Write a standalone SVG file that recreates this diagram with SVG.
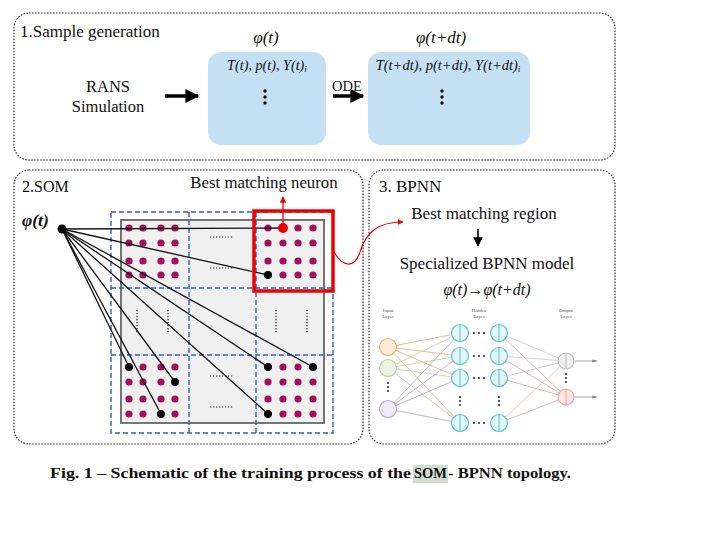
<svg xmlns="http://www.w3.org/2000/svg" width="713" height="538" viewBox="0 0 713 538">
<style>
.panel{fill:none;stroke:#333;stroke-width:1.2;stroke-dasharray:1.6 1.4}
.serif{font-family:"Liberation Serif","Times New Roman",serif;fill:#111}
.it{font-style:italic}
.blue{fill:#c6e0f3}
.vdot{fill:#111}
.som{fill:#a3105a}
.bd{fill:#000}
.ln{stroke:#111;stroke-width:1.3;fill:none}
.grid{fill:none;stroke:#2a5fe0;stroke-width:1.4;stroke-dasharray:5 3}
.tiny{font-family:"Liberation Serif",serif;font-size:5px;fill:#555;text-anchor:middle}
.hid{fill:#e4f6f9;stroke:#55c3d6;stroke-width:1.2}
.dots{stroke:#222;stroke-width:1.2;stroke-dasharray:1.2 1.8}
</style>
<defs>
<marker id="ah" viewBox="0 0 10 10" refX="9" refY="5" markerWidth="4" markerHeight="4" orient="auto"><path d="M0,0 L10,5 L0,10 z" fill="#000"/></marker>
<marker id="ah2" viewBox="0 0 10 10" refX="9" refY="5" markerWidth="6" markerHeight="6" orient="auto"><path d="M0,0 L10,5 L0,10 z" fill="#000"/></marker>
<marker id="ahr" viewBox="0 0 10 10" refX="9" refY="5" markerWidth="5" markerHeight="5" orient="auto"><path d="M0,0 L10,5 L0,10 z" fill="#e00"/></marker>
<marker id="ahg" viewBox="0 0 10 10" refX="9" refY="5" markerWidth="6" markerHeight="6" orient="auto"><path d="M0,2 L10,5 L0,8 z" fill="#888"/></marker>
</defs>
<rect width="713" height="538" fill="#fff"/>

<!-- Panel 1 -->
<g id="panel1">
<rect class="panel" x="14" y="13" width="601" height="147" rx="15"/>
<text class="serif" x="20" y="37" font-size="17">1.Sample generation</text>
</g>
<g id="rans">
<text class="serif" x="108" y="92" font-size="16.5" text-anchor="middle">RANS</text>
<text class="serif" x="108" y="112" font-size="16.5" text-anchor="middle">Simulation</text>
</g>
<g id="state-t">
<text class="serif it" x="266" y="43" font-size="17" text-anchor="middle">φ(t)</text>
<rect class="blue" x="208" y="52" width="118" height="93" rx="13"/>
<text class="serif it" x="267" y="70" font-size="14.2" text-anchor="middle">T(t), p(t), Y(t)<tspan font-size="9" dy="2">i</tspan></text>
<circle class="vdot" cx="265" cy="91" r="1.7"/><circle class="vdot" cx="265" cy="97" r="1.7"/><circle class="vdot" cx="265" cy="103" r="1.7"/>
</g>
<g id="state-tdt">
<text class="serif it" x="441" y="43" font-size="17" text-anchor="middle">φ(t+dt)</text>
<rect class="blue" x="368" y="52" width="162" height="93" rx="13"/>
<text class="serif it" x="448" y="70" font-size="14.5" text-anchor="middle">T(t+dt), p(t+dt), Y(t+dt)<tspan font-size="9" dy="2">i</tspan></text>
<circle class="vdot" cx="442" cy="91" r="1.7"/><circle class="vdot" cx="442" cy="97" r="1.7"/><circle class="vdot" cx="442" cy="103" r="1.7"/>
</g>

<!-- Panel 2 -->
<g id="panel2">
<rect class="panel" x="14" y="170" width="349" height="274" rx="15"/>
<text class="serif" x="22" y="192" font-size="16">2.SOM</text>
<text class="serif" x="264" y="188" font-size="16.8" text-anchor="middle">Best matching neuron</text>
<text class="serif it" x="22" y="226" font-size="17.5" font-weight="bold">φ(t)</text>
</g>
<g id="som-map">
<rect x="121" y="220" width="203" height="203" fill="#f0f0f0" stroke="#666" stroke-width="1.8"/>
<g class="som">
<circle cx="129" cy="228" r="3.6"/><circle cx="143" cy="228" r="3.6"/><circle cx="161" cy="228" r="3.6"/><circle cx="175" cy="228" r="3.6"/>
<circle cx="129" cy="243" r="3.6"/><circle cx="143" cy="243" r="3.6"/><circle cx="161" cy="243" r="3.6"/><circle cx="175" cy="243" r="3.6"/>
<circle cx="129" cy="261" r="3.6"/><circle cx="143" cy="261" r="3.6"/><circle cx="161" cy="261" r="3.6"/><circle cx="175" cy="261" r="3.6"/>
<circle cx="129" cy="275" r="3.6"/><circle cx="143" cy="275" r="3.6"/><circle cx="161" cy="275" r="3.6"/><circle cx="175" cy="275" r="3.6"/>
<circle cx="268" cy="228" r="3.6"/><circle cx="298" cy="228" r="3.6"/><circle cx="313" cy="228" r="3.6"/>
<circle cx="268" cy="243" r="3.6"/><circle cx="283" cy="243" r="3.6"/><circle cx="298" cy="243" r="3.6"/><circle cx="313" cy="243" r="3.6"/>
<circle cx="268" cy="261" r="3.6"/><circle cx="283" cy="261" r="3.6"/><circle cx="298" cy="261" r="3.6"/><circle cx="313" cy="261" r="3.6"/>
<circle cx="283" cy="275" r="3.6"/><circle cx="298" cy="275" r="3.6"/><circle cx="313" cy="275" r="3.6"/>
<circle cx="143" cy="367" r="3.6"/><circle cx="161" cy="367" r="3.6"/><circle cx="175" cy="367" r="3.6"/>
<circle cx="129" cy="382" r="3.6"/><circle cx="143" cy="382" r="3.6"/><circle cx="161" cy="382" r="3.6"/>
<circle cx="129" cy="399" r="3.6"/><circle cx="143" cy="399" r="3.6"/><circle cx="161" cy="399" r="3.6"/><circle cx="175" cy="399" r="3.6"/>
<circle cx="129" cy="414" r="3.6"/><circle cx="143" cy="414" r="3.6"/><circle cx="175" cy="414" r="3.6"/>
<circle cx="283" cy="367" r="3.6"/><circle cx="298" cy="367" r="3.6"/>
<circle cx="268" cy="382" r="3.6"/><circle cx="283" cy="382" r="3.6"/><circle cx="298" cy="382" r="3.6"/><circle cx="313" cy="382" r="3.6"/>
<circle cx="268" cy="399" r="3.6"/><circle cx="283" cy="399" r="3.6"/><circle cx="298" cy="399" r="3.6"/><circle cx="313" cy="399" r="3.6"/>
<circle cx="283" cy="414" r="3.6"/><circle cx="298" cy="414" r="3.6"/><circle cx="313" cy="414" r="3.6"/>
</g>
<g class="dots">
<line x1="210" y1="237" x2="233" y2="237"/><line x1="210" y1="268" x2="233" y2="268"/>
<line x1="210" y1="376" x2="233" y2="376"/><line x1="210" y1="407" x2="233" y2="407"/>
<line x1="137" y1="310" x2="137" y2="334"/><line x1="168" y1="310" x2="168" y2="334"/>
<line x1="276" y1="310" x2="276" y2="334"/><line x1="307" y1="310" x2="307" y2="334"/>
</g>
<g class="grid">
<rect x="111" y="212" width="222" height="221"/>
<line x1="189" y1="212" x2="189" y2="433"/><line x1="256" y1="212" x2="256" y2="433"/>
<line x1="111" y1="288" x2="333" y2="288"/><line x1="111" y1="355" x2="333" y2="355"/>
</g>
</g>
<g id="connectors">
<g class="ln">
<line x1="62" y1="229" x2="283" y2="228"/>
<line x1="62" y1="229" x2="268" y2="275"/>
<line x1="62" y1="229" x2="129" y2="367"/>
<line x1="62" y1="229" x2="175" y2="382"/>
<line x1="62" y1="229" x2="161" y2="414"/>
<line x1="62" y1="229" x2="268" y2="367"/>
<line x1="62" y1="229" x2="313" y2="367"/>
<line x1="62" y1="229" x2="268" y2="414"/>
</g>
<line x1="165" y1="96" x2="198" y2="96" stroke="#000" stroke-width="3.5" marker-end="url(#ah)"/>
<line x1="333" y1="96" x2="363" y2="96" stroke="#000" stroke-width="3.5" marker-end="url(#ah)"/>
<text class="serif" x="347" y="91" font-size="14.5" text-anchor="middle">ODE</text>
<line x1="283" y1="228" x2="283" y2="197" stroke="#e00" stroke-width="1.3" marker-end="url(#ahr)"/>
<path d="M334,252 C342,266 354,270 360,252 C366,232 378,222 403,222" fill="none" stroke="#e00" stroke-width="1.2" marker-end="url(#ahr)"/>
<line x1="478" y1="229" x2="478" y2="246" stroke="#000" stroke-width="1.6" marker-end="url(#ah2)"/>
</g>
<g id="phi-node"><circle class="bd" cx="62" cy="229" r="4.5"/></g>
<g id="bmn-nodes" class="bd">
<circle cx="268" cy="275" r="4"/><circle cx="129" cy="367" r="4"/><circle cx="175" cy="382" r="4"/><circle cx="161" cy="414" r="4"/>
<circle cx="268" cy="367" r="4"/><circle cx="313" cy="367" r="4"/><circle cx="268" cy="414" r="4"/>
</g>
<g id="best-neuron">
<circle cx="283" cy="228" r="5" fill="#e00"/>
<rect x="254" y="211" width="79" height="80" fill="none" stroke="#e00" stroke-width="3.5"/>
</g>

<!-- Panel 3 -->
<g id="panel3">
<rect class="panel" x="369" y="170" width="246" height="274" rx="15"/>
<text class="serif" x="379" y="192" font-size="17">3. BPNN</text>
<text class="serif" x="484" y="219" font-size="17" text-anchor="middle">Best matching region</text>
<text class="serif" x="487" y="269" font-size="17" text-anchor="middle">Specialized BPNN model</text>
<text class="serif it" x="487" y="295" font-size="16" text-anchor="middle">φ(t)→φ(t+dt)</text>
</g>
<g id="bpnn">
<text class="tiny" x="388" y="312">Input</text><text class="tiny" x="388" y="318">Layer</text>
<text class="tiny" x="479" y="312">Hidden</text><text class="tiny" x="479" y="318">Layer</text>
<text class="tiny" x="566" y="312">Output</text><text class="tiny" x="566" y="318">Layer</text>
<g stroke-width="0.9" fill="none">
<g stroke="#f5b07a"><line x1="388" y1="347" x2="460" y2="333"/><line x1="388" y1="347" x2="460" y2="356"/><line x1="388" y1="347" x2="460" y2="378"/><line x1="388" y1="347" x2="460" y2="423"/></g>
<g stroke="#c4d4a6"><line x1="388" y1="368" x2="460" y2="333"/><line x1="388" y1="368" x2="460" y2="356"/><line x1="388" y1="368" x2="460" y2="378"/><line x1="388" y1="368" x2="460" y2="423"/></g>
<g stroke="#b9aad9"><line x1="388" y1="409" x2="460" y2="333"/><line x1="388" y1="409" x2="460" y2="356"/><line x1="388" y1="409" x2="460" y2="378"/><line x1="388" y1="409" x2="460" y2="423"/></g>
<g stroke="#cfcfcf"><line x1="499" y1="333" x2="566" y2="361"/><line x1="499" y1="356" x2="566" y2="361"/><line x1="499" y1="378" x2="566" y2="361"/><line x1="499" y1="423" x2="566" y2="361"/></g>
<g stroke="#f0a8a8"><line x1="499" y1="333" x2="566" y2="397"/><line x1="499" y1="356" x2="566" y2="397"/><line x1="499" y1="378" x2="566" y2="397"/><line x1="499" y1="423" x2="566" y2="397"/></g>
<line x1="575" y1="361" x2="597" y2="361" stroke="#999" marker-end="url(#ahg)"/>
<line x1="575" y1="397" x2="597" y2="397" stroke="#999" marker-end="url(#ahg)"/>
</g>
<circle cx="388" cy="347" r="8.5" fill="#fdebd9" stroke="#f5ad72" stroke-width="1.1"/>
<circle cx="388" cy="368" r="8.5" fill="#eef3e6" stroke="#b9cc98" stroke-width="1.1"/>
<circle cx="388" cy="409" r="8.5" fill="#efebf6" stroke="#b7a8d6" stroke-width="1.1"/>
<g class="hid">
<circle cx="460" cy="333" r="8.5"/><circle cx="460" cy="356" r="8.5"/><circle cx="460" cy="378" r="8.5"/><circle cx="460" cy="423" r="8.5"/>
<circle cx="499" cy="333" r="8.5"/><circle cx="499" cy="356" r="8.5"/><circle cx="499" cy="378" r="8.5"/><circle cx="499" cy="423" r="8.5"/>
</g>
<g stroke="#55c3d6" stroke-width="1">
<line x1="460" y1="324.5" x2="460" y2="341.5"/><line x1="460" y1="347.5" x2="460" y2="364.5"/><line x1="460" y1="369.5" x2="460" y2="386.5"/><line x1="460" y1="414.5" x2="460" y2="431.5"/>
<line x1="499" y1="324.5" x2="499" y2="341.5"/><line x1="499" y1="347.5" x2="499" y2="364.5"/><line x1="499" y1="369.5" x2="499" y2="386.5"/><line x1="499" y1="414.5" x2="499" y2="431.5"/>
</g>
<circle cx="566" cy="361" r="8" fill="#efefef" stroke="#bdbdbd" stroke-width="1.1"/>
<circle cx="566" cy="397" r="8" fill="#fde6e6" stroke="#f0a0a0" stroke-width="1.1"/>
<line x1="566" y1="353" x2="566" y2="369" stroke="#bdbdbd"/>
<line x1="566" y1="389" x2="566" y2="405" stroke="#f0a0a0"/>
<g fill="#333">
<circle cx="474" cy="333" r="1.1"/><circle cx="479" cy="333" r="1.1"/><circle cx="484" cy="333" r="1.1"/>
<circle cx="474" cy="356" r="1.1"/><circle cx="479" cy="356" r="1.1"/><circle cx="484" cy="356" r="1.1"/>
<circle cx="474" cy="378" r="1.1"/><circle cx="479" cy="378" r="1.1"/><circle cx="484" cy="378" r="1.1"/>
<circle cx="474" cy="423" r="1.1"/><circle cx="479" cy="423" r="1.1"/><circle cx="484" cy="423" r="1.1"/>
<circle cx="460" cy="397" r="1.1"/><circle cx="460" cy="401" r="1.1"/><circle cx="460" cy="405" r="1.1"/>
<circle cx="499" cy="397" r="1.1"/><circle cx="499" cy="401" r="1.1"/><circle cx="499" cy="405" r="1.1"/>
<circle cx="388" cy="383" r="1.1"/><circle cx="388" cy="387" r="1.1"/><circle cx="388" cy="391" r="1.1"/>
<circle cx="566" cy="374" r="1.1"/><circle cx="566" cy="378" r="1.1"/><circle cx="566" cy="382" r="1.1"/>
</g>
</g>

<!-- Caption -->
<g id="caption">
<rect x="413" y="465" width="35" height="18" fill="#d3dcd3"/>
<text class="serif" font-weight="bold" font-size="14" x="50" y="478" textLength="361" lengthAdjust="spacingAndGlyphs">Fig. 1 – Schematic of the training process of the</text>
<text class="serif" font-weight="bold" font-size="14" x="414" y="478" textLength="33" lengthAdjust="spacingAndGlyphs">SOM</text>
<text class="serif" font-weight="bold" font-size="14" x="448" y="478" textLength="123" lengthAdjust="spacingAndGlyphs">- BPNN topology.</text>
</g>
</svg>
